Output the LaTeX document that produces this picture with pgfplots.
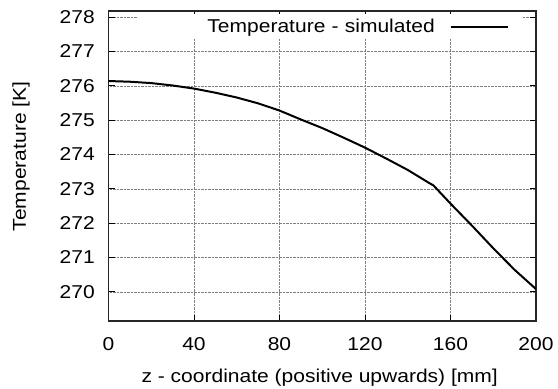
\documentclass[border=0pt]{standalone}
\usepackage{fontspec}
\setmainfont[FakeStretch=1.13]{Liberation Sans}
\usepackage{pgfplots}
\pgfplotsset{compat=1.18}

\newcommand{\chartfont}{\fontsize{18.6bp}{22bp}\selectfont}

\begin{document}
\begin{tikzpicture}
\begin{axis}[
  scale only axis,
  width=427.5bp, height=310bp,
  xmin=0, xmax=200,
  ymin=269.15, ymax=278.18,
  xtick={0,40,80,120,160,200},
  ytick={270,271,272,273,274,275,276,277,278},
  /pgf/number format/assume math mode=true,
  /pgf/number format/.cd, 1000 sep={}, /pgfplots/.cd,
  tick label style={font=\chartfont},
  xticklabel style={anchor=base, inner sep=0pt, yshift=-29bp},
  yticklabel style={anchor=east, inner sep=0pt, xshift=-13.5bp},
  major tick length=6.5bp,
  tick style={black, line width=0.8bp},
  axis line style={black!85, line width=1.1bp},
  grid=major,
  grid style={densely dotted, line width=0.5bp, black!50},
  xlabel={z - coordinate (positive upwards) [mm]},
  ylabel={Temperature [K]},
  label style={font=\chartfont},
  xlabel style={at={(axis description cs:0.494,0)}, anchor=base, inner sep=0pt, yshift=-61.5bp},
  ylabel style={at={(axis description cs:-0.193,0.5306)}, anchor=base, inner sep=0pt},
  legend plot pos=right,
  legend image code/.code={\draw[black, line width=2bp] (0bp,0bp) -- (57.6bp,0bp);},
  legend style={draw=none, fill=white, font=\chartfont,
    at={(rel axis cs:0.9703,0.9903)}, anchor=north east,
    inner xsep=14bp, inner ysep=5bp, column sep=14.7bp,
    nodes={inner sep=0pt},
    /tikz/every odd column/.append style={text width=283bp, align=right}},
]
\addplot[black, line width=2bp] coordinates {
  (0,276.14) (10,276.12) (20,276.08) (30,276.01) (40,275.92)
  (50,275.80) (60,275.66) (70,275.49) (80,275.28) (90,275.02)
  (100,274.77) (110,274.49) (120,274.20) (130,273.88) (140,273.55)
  (150,273.17) (152,273.10) (160,272.57) (170,271.93) (180,271.27)
  (190,270.64) (200,270.08)
};
\addlegendentry{Temperature - simulated}
\end{axis}
\pgfresetboundingbox
\path ([shift={(-108.5bp,-68bp)}]current axis.south west)
  rectangle ([shift={(22bp,11bp)}]current axis.north east);
\end{tikzpicture}
\end{document}
